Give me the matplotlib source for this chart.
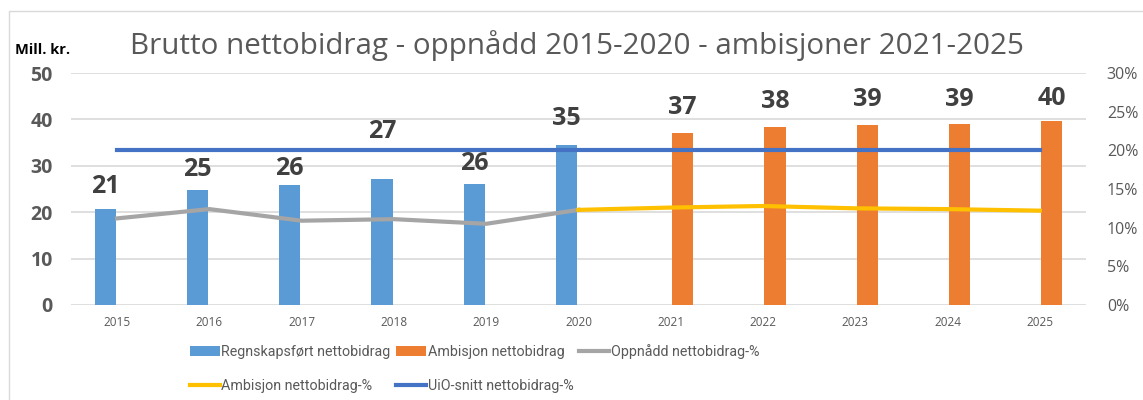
import matplotlib.pyplot as plt
from matplotlib.patches import Patch, Rectangle
from matplotlib.lines import Line2D

plt.rcParams['font.family'] = ['Open Sans', 'DejaVu Sans']

years = ["2015", "2016", "2017", "2018", "2019", "2020",
         "2021", "2022", "2023", "2024", "2025"]

# bars (mill. kr.)
regnskap = [20.7, 24.8, 25.9, 27.2, 26.0, 34.5]          # 2015-2020
ambisjon = [37.0, 38.4, 38.9, 39.1, 39.6]                # 2021-2025
bar_labels = ["21", "25", "26", "27", "26", "35", "37", "38", "39", "39", "40"]
label_y = [25.6, 29.3, 29.5, 37.3, 30.4, 40.1, 42.5, 43.8, 44.2, 44.2, 44.6]

# percentages
oppnaadd_pct = [11.2, 12.4, 10.9, 11.1, 10.5, 12.3]      # 2015-2020
ambisjon_pct = [12.3, 12.6, 12.8, 12.5, 12.4, 12.2]      # 2020-2025
uio_pct = [20.0] * 11

c_blue_bar = "#5B9BD5"
c_orange = "#ED7D31"
c_gray = "#A5A5A5"
c_yellow = "#FFC000"
c_uio = "#4472C4"
c_text = "#595959"

fig = plt.figure(figsize=(11.43, 4.0), dpi=100)
ax = fig.add_axes([0.0621, 0.2375, 0.888, 0.58])

x = list(range(len(years)))
off = 0.13  # two bar series share each category slot (like Excel clustered)
bx = [xi - off for xi in x[:6]] + [xi + off for xi in x[6:]]
ax.bar(bx[:6], regnskap, width=0.23, color=c_blue_bar, zorder=2)
ax.bar(bx[6:], ambisjon, width=0.23, color=c_orange, zorder=2)

for xi, lab, ly in zip(bx, bar_labels, label_y):
    ax.text(xi, ly, lab, ha="center", va="center", fontsize=18,
            fontweight="bold", color="#404040", zorder=5)

ax.set_xlim(-0.5, 10.5)
ax.set_ylim(0, 50)
ax.set_yticks(range(0, 51, 10))
ax.set_xticks(x)
ax.set_xticklabels(years, fontsize=8.5, color=c_text)
ax.tick_params(axis="y", labelsize=14, colors=c_text, length=0, pad=13)
ax.tick_params(axis="x", length=0, pad=8)
for lbl in ax.get_yticklabels():
    lbl.set_fontweight("bold")
ax.grid(axis="y", color="#D9D9D9", linewidth=1.2, zorder=0)
ax.set_axisbelow(True)
for s in ax.spines.values():
    s.set_visible(False)

ax2 = ax.twinx()
ax2.plot(x[:6], oppnaadd_pct, color=c_gray, linewidth=3)
ax2.plot(x[5:], ambisjon_pct, color=c_yellow, linewidth=3)
ax2.plot(x, uio_pct, color=c_uio, linewidth=3)
ax2.set_ylim(0, 30)
ax2.set_yticks(range(0, 31, 5))
ax2.set_yticklabels([f"{v}%" for v in range(0, 31, 5)])
ax2.tick_params(axis="y", labelsize=11.5, colors=c_text, length=0, pad=15)
for s in ax2.spines.values():
    s.set_visible(False)

fig.text(577 / 1143, 1 - 46 / 400,
         "Brutto nettobidrag - oppnådd 2015-2020 - ambisjoner 2021-2025",
         ha="center", va="center", fontsize=21.3, color=c_text)
fig.text(15 / 1143, 1 - 50 / 400, "Mill. kr.", ha="left", va="center",
         fontsize=10.5, fontweight="bold", color="black")

# outer chart frame
fig.add_artist(Rectangle((9 / 1143, -0.1), 1.2, 1 - 11 / 400 + 0.1,
                         transform=fig.transFigure, fill=False,
                         edgecolor="#D9D9D9", linewidth=1))

handles = [
    Patch(facecolor=c_blue_bar),
    Line2D([], [], color=c_yellow, linewidth=3),
    Patch(facecolor=c_orange),
    Line2D([], [], color=c_uio, linewidth=3),
    Line2D([], [], color=c_gray, linewidth=3),
]
labels = ["Regnskapsført nettobidrag", "Ambisjon nettobidrag-%",
          "Ambisjon nettobidrag", "UiO-snitt nettobidrag-%",
          "Oppnådd nettobidrag-%"]
leg = fig.legend(handles, labels, ncol=3, loc="upper left",
                 bbox_to_anchor=(184 / 1143, 1 - 338 / 400), frameon=False,
                 prop={"family": ["Liberation Sans Narrow", "Roboto"],
                       "size": 10.3},
                 handlelength=2.1, handletextpad=0.1,
                 columnspacing=0.4, labelspacing=1.45, borderaxespad=0)
for t in leg.get_texts():
    t.set_color(c_text)

fig.savefig("out.png", dpi=100)
